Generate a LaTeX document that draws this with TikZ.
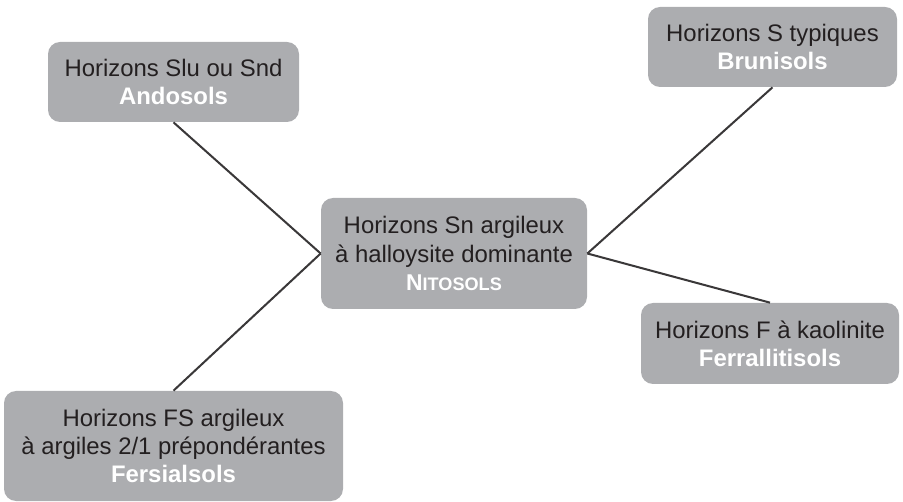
\documentclass[tikz,border=0pt]{standalone}
\usepackage{fontspec}
\setmainfont{Liberation Sans}
\definecolor{boxgray}{RGB}{172,173,176}
\definecolor{inkgray}{RGB}{35,31,32}
\definecolor{linegray}{RGB}{58,56,57}
\begin{document}
\begin{tikzpicture}[scale = 1,
        soilbox/.style={rectangle, rounded corners=0.24cm, fill=boxgray, text=inkgray,
            align=center, inner sep=0pt, font=\fontsize{13.6}{16}\selectfont},
        link/.style={draw=linegray, line width=1.15pt}]
        \useasboundingbox (0,0) rectangle (18.06,10.04);
        \node[soilbox, minimum width=5.02cm, minimum height=1.60cm] (ando) at (3.47,8.40)
            {Horizons Slu ou Snd\\\textcolor{white}{\textbf{Andosols}}};
        \node[soilbox, minimum width=4.98cm, minimum height=1.60cm] (bruni) at (15.45,9.10)
            {Horizons S typiques\\\textcolor{white}{\textbf{Brunisols}}};
        \node[soilbox, minimum width=5.32cm, minimum height=2.22cm] (nito) at (9.08,4.97)
            {Horizons Sn argileux\\à halloysite dominante\\\textcolor{white}{\textbf{\fontsize{13}{16}\selectfont N\fontsize{10.3}{16}\selectfont ITOSOLS}}};
        \node[soilbox, minimum width=5.16cm, minimum height=1.62cm] (ferral) at (15.40,3.17)
            {Horizons F à kaolinite\\\textcolor{white}{\textbf{Ferrallitisols}}};
        \node[soilbox, minimum width=6.78cm, minimum height=2.20cm] (fersi) at (3.47,1.12)
            {Horizons FS argileux\\à argiles 2/1 prépondérantes\\\textcolor{white}{\textbf{Fersialsols}}};
        % liens vers le centre
        \draw[link] (ando.south) -- (nito.west);
        \draw[link] (fersi.north) -- (nito.west);
        \draw[link] (bruni.south) -- (nito.east);
        \draw[link] (ferral.north) -- (nito.east);
    \end{tikzpicture}
\end{document}
